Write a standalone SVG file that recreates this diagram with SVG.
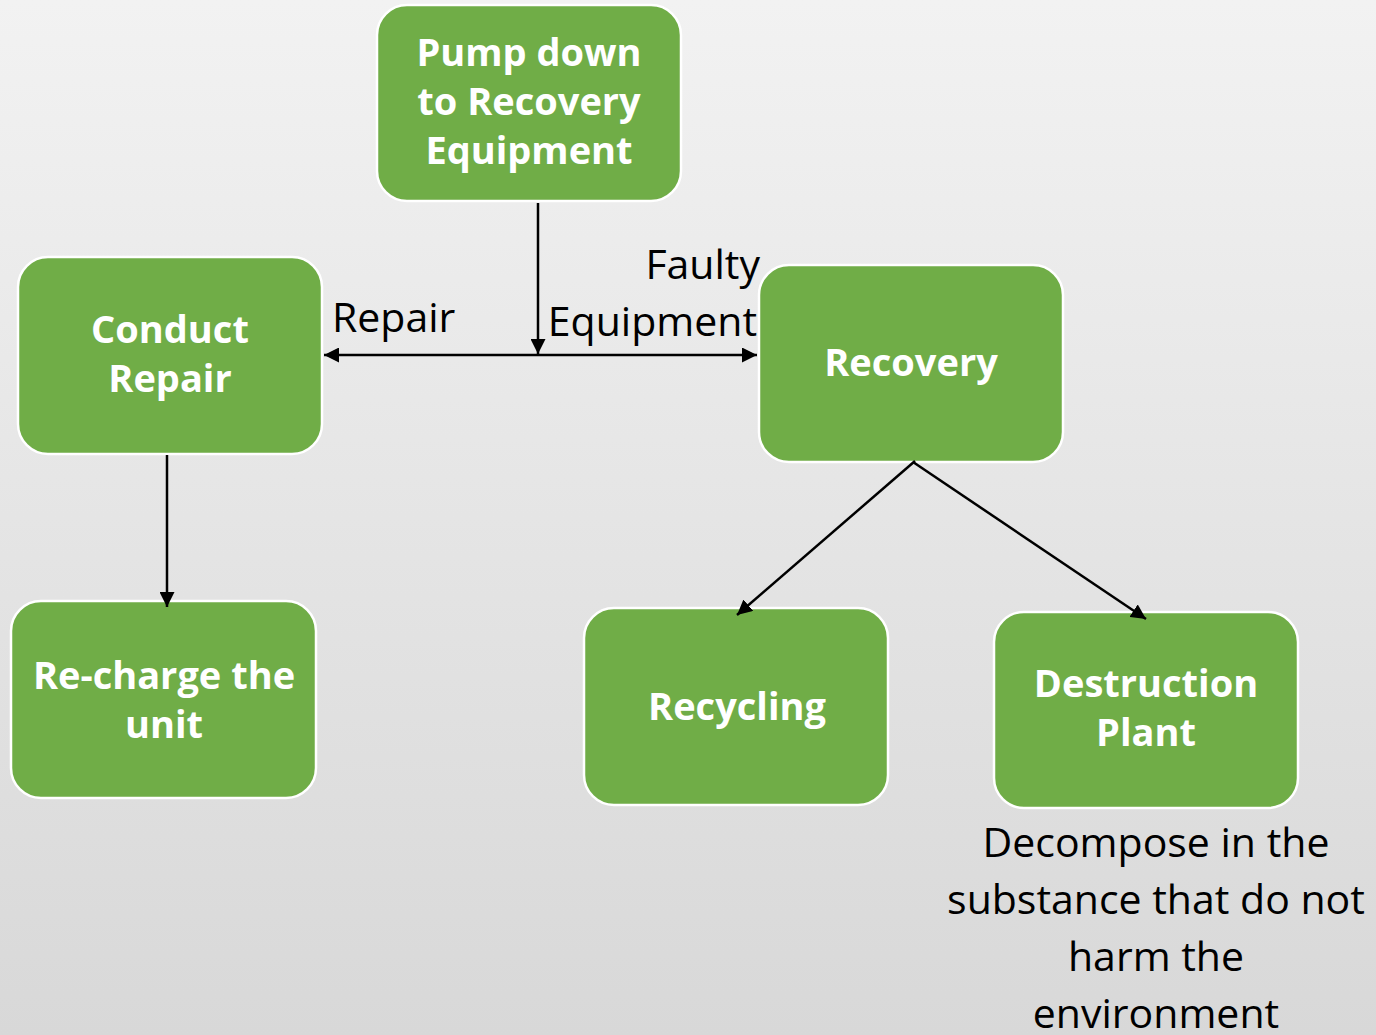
<svg xmlns="http://www.w3.org/2000/svg" width="1376" height="1035" viewBox="0 0 1376 1035">
<defs>
<linearGradient id="bg" x1="0" y1="0" x2="0" y2="1">
<stop offset="0" stop-color="#f2f2f2"/>
<stop offset="1" stop-color="#d8d8d8"/>
</linearGradient>
<marker id="ah" viewBox="0 0 10 10" refX="10" refY="5" markerWidth="6" markerHeight="6" orient="auto-start-reverse" markerUnits="strokeWidth">
<path d="M0,0 L10,5 L0,10 z" fill="#000"/>
</marker>
<style>
.box{fill:#70ad47;stroke:#ffffff;stroke-width:2.5}
.bt{font-family:"Open Sans","Liberation Sans",sans-serif;font-weight:bold;font-size:38px;fill:#ffffff;text-anchor:middle}
.lt{font-family:"Open Sans","Liberation Sans",sans-serif;font-size:41px;fill:#000000}
.ln{stroke:#000;stroke-width:2.5;fill:none}
</style>
</defs>
<rect width="1376" height="1035" fill="url(#bg)"/>
<g id="pump">
<rect class="box" x="377" y="5" width="304" height="196" rx="30"/>
<text class="bt" x="529" y="66">Pump down</text>
<text class="bt" x="529" y="115">to Recovery</text>
<text class="bt" x="529" y="164">Equipment</text>
</g>
<g id="conduct">
<rect class="box" x="18" y="257" width="304" height="197" rx="30"/>
<text class="bt" x="170" y="343">Conduct</text>
<text class="bt" x="170" y="392">Repair</text>
</g>
<g id="recovery">
<rect class="box" x="759" y="265" width="304" height="197" rx="30"/>
<text class="bt" x="911" y="376">Recovery</text>
</g>
<g id="recharge">
<rect class="box" x="11" y="601" width="305" height="197" rx="30"/>
<text class="bt" x="164" y="689">Re-charge the</text>
<text class="bt" x="164" y="738">unit</text>
</g>
<g id="recycling">
<rect class="box" x="584" y="608" width="304" height="197" rx="30"/>
<text class="bt" x="737" y="720">Recycling</text>
</g>
<g id="destruction">
<rect class="box" x="994" y="612" width="304" height="196" rx="30"/>
<text class="bt" x="1146" y="697">Destruction</text>
<text class="bt" x="1146" y="746">Plant</text>
</g>
<g id="connectors">
<line class="ln" x1="538" y1="203" x2="538" y2="354" marker-end="url(#ah)"/>
<line class="ln" x1="324" y1="355" x2="757" y2="355" marker-start="url(#ah)" marker-end="url(#ah)"/>
<line class="ln" x1="167" y1="455" x2="167" y2="607" marker-end="url(#ah)"/>
<line class="ln" x1="915" y1="461" x2="737" y2="615" marker-end="url(#ah)"/>
<line class="ln" x1="913" y1="462" x2="1146" y2="619" marker-end="url(#ah)"/>
<text class="lt" x="332" y="332">Repair</text>
<text class="lt" x="760" y="279" text-anchor="end">Faulty</text>
<text class="lt" x="757" y="336" text-anchor="end">Equipment</text>
</g>
<g id="note">
<text class="lt" text-anchor="middle" x="1156" y="857">Decompose in the</text>
<text class="lt" text-anchor="middle" x="1156" y="914">substance that do not</text>
<text class="lt" text-anchor="middle" x="1156" y="971">harm the</text>
<text class="lt" text-anchor="middle" x="1156" y="1028">environment</text>
</g>
</svg>
